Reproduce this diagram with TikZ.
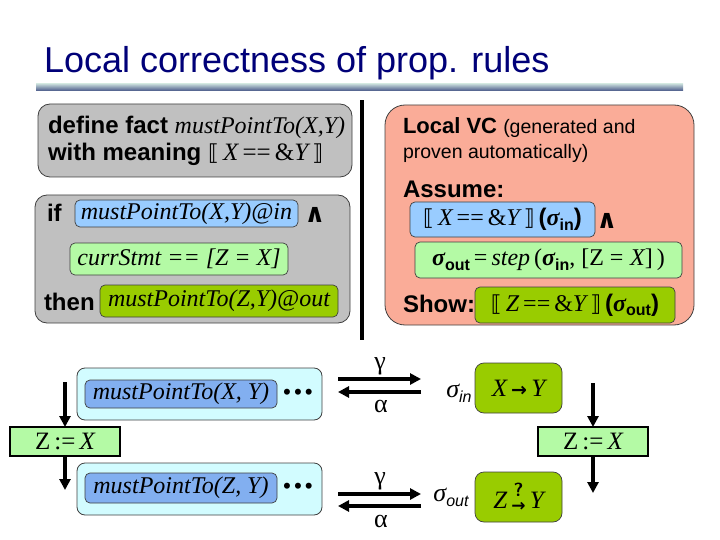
\documentclass[tikz,border=0pt]{standalone}
\usepackage{fontspec}
\setmainfont{Liberation Sans}
\newfontfamily\ser{Liberation Serif}
\newfontfamily\dvs{DejaVu Sans}
\usetikzlibrary{arrows.meta}
\definecolor{navy}{RGB}{0,0,120}
\definecolor{rulet}{RGB}{195,215,215}
\definecolor{ruleb}{RGB}{70,85,135}
\definecolor{gbox}{RGB}{192,192,192}
\definecolor{blueA}{RGB}{153,204,255}
\definecolor{lgreen}{RGB}{180,250,165}
\definecolor{olive}{RGB}{153,204,0}
\definecolor{pinkbox}{RGB}{250,172,152}
\definecolor{cyanbox}{RGB}{210,252,255}
\definecolor{innerblue}{RGB}{130,175,240}
\newcommand\mi[1]{{\ser\itshape #1}}
\newcommand\mr[1]{{\ser #1}}
\newcommand\lbr{{\dvs\fontsize{22}{22}\selectfont ⟦}}
\newcommand\rbr{{\dvs\fontsize{22}{22}\selectfont ⟧}}
\newcommand\sig{{\ser\bfseries\itshape σ}}
\newcommand\subs[1]{\raisebox{-0.35ex}{\fontsize{16}{16}\selectfont\bfseries #1}}
\newcommand\isubs[1]{\raisebox{-0.35ex}{\fontsize{16}{16}\selectfont\itshape #1}}
\begin{document}
\begin{tikzpicture}[x=1pt,y=-1pt,
  every node/.style={inner sep=0pt, outer sep=0pt},
  box/.style={draw=black!75, line width=0.8pt, rounded corners=12pt},
  chip/.style={draw=black!75, line width=0.7pt, rounded corners=5pt, align=center},
  serfont/.style={font=\ser\itshape\fontsize{24}{27}\selectfont},
  sanslbl/.style={font=\bfseries\fontsize{24}{26}\selectfont},
  andsym/.style={font=\dvs\bfseries\fontsize{26}{26}\selectfont},
  arr/.style={line width=3.4pt, -{Triangle[length=11pt,width=11pt]}},
  vline/.style={line width=3.4pt, -{Triangle[length=11pt,width=11pt]}},
  greek/.style={font=\ser\fontsize{26}{28}\selectfont}]
\useasboundingbox (0,0) rectangle (720,540);

% title
\node[anchor=base west, text=navy, font=\fontsize{36}{40}\selectfont] (title) at (44,73) {Local correctness of prop. rules};
\shade[top color=rulet, bottom color=ruleb] (36,84) rectangle (683,91);

% left box 1
\node[box, fill=gbox, minimum width=314pt, minimum height=73pt] (def) at (195,140.5) {};
\node[anchor=base west, sanslbl] (def1) at (48,134) {define fact \mi{\mdseries\fontsize{24}{27}\selectfont mustPointTo(X,Y)}};
\node[anchor=base west, sanslbl] (def2) at (48,161) {with meaning \mdseries\fontsize{25}{28}\selectfont\lbr\,\mi{X}\,\mr{==}\,\mr{\&}\mi{Y}\,\rbr};

% left box 2
\node[box, fill=gbox, minimum width=315pt, minimum height=128pt] (rule) at (192.5,259) {};
\node[anchor=base west, sanslbl] (if) at (47,222) {if};
\node[chip, fill=blueA, minimum width=223pt, minimum height=27pt, serfont] (pin) at (186.5,213.5) {mustPointTo(X,Y)@in};
\node[andsym] (and1) at (315,215) {∧};
\node[chip, fill=lgreen, minimum width=218pt, minimum height=32pt, serfont] (cs) at (179,259) {currStmt \mr{== [Z =} X\mr{]}};
\node[anchor=base west, sanslbl] (then) at (44,310) {then};
\node[chip, fill=olive, minimum width=238pt, minimum height=32pt, serfont] (pout) at (219,301) {mustPointTo(Z,Y)@out};

% separator bar
\fill (360,100) rectangle (364,340);

% right box
\node[box, fill=pinkbox, rounded corners=20pt, minimum width=309pt, minimum height=220pt] (vc) at (539.5,215) {};
\node[anchor=base west] (vc1) at (403,134) {\bfseries\fontsize{22}{24}\selectfont Local VC \mdseries\fontsize{19.5}{22}\selectfont (generated and};
\node[anchor=base west, font=\fontsize{19.5}{22}\selectfont] (vc2) at (403,159) {proven automatically)};
\node[anchor=base west, sanslbl] (assume) at (403,197) {Assume:};
\node[chip, fill=blueA, minimum width=185pt, minimum height=35pt, font=\fontsize{24}{27}\selectfont] (ain) at (502.5,219.5) {\lbr\,\mi{X}\,\mr{==}\,\mr{\&}\mi{Y}\,\rbr\,\textbf{(}\sig\subs{in}\textbf{)}};
\node[andsym] (and2) at (607,221) {∧};
\node[chip, fill=lgreen, minimum width=267pt, minimum height=36pt, font=\fontsize{24}{27}\selectfont] (astep) at (548.5,260) {\sig\subs{out}\,\mr{=}\,\mi{step}\,\mr{(}\sig\subs{in}\mr{, [Z =} \mi{X}\mr{]\,)}};
\node[anchor=base west, sanslbl] (show) at (403,312) {Show:};
\node[chip, fill=olive, minimum width=200pt, minimum height=36pt, font=\fontsize{24}{27}\selectfont] (sout) at (575,305) {\lbr\,\mi{Z}\,\mr{==}\,\mr{\&}\mi{Y}\,\rbr\,\textbf{(}\sig\subs{out}\textbf{)}};

% bottom left
\node[box, fill=cyanbox, rounded corners=8pt, minimum width=245pt, minimum height=52pt] (c1) at (199.5,394) {};
\node[chip, fill=innerblue, minimum width=192pt, minimum height=28pt, serfont] (m1) at (181,394) {mustPointTo\mr{(}X\mr{, }Y\mr{)}};
\node[font=\dvs\bfseries\fontsize{17}{17}\selectfont] (d1) at (298,394) {•••};
\node[box, fill=cyanbox, rounded corners=8pt, minimum width=245pt, minimum height=52pt] (c2) at (199.5,489) {};
\node[chip, fill=innerblue, minimum width=192pt, minimum height=30pt, serfont] (m2) at (181,488) {mustPointTo\mr{(}Z\mr{, }Y\mr{)}};
\node[font=\dvs\bfseries\fontsize{17}{17}\selectfont] (d2) at (298,488) {•••};

% left assignment
\node[draw=black, line width=1.5pt, fill=lgreen, minimum width=110pt, minimum height=29pt, font=\ser\fontsize{25}{28}\selectfont] (zl) at (65,441.5) {Z\,:=\,\mi{X}};
\coordinate (zlt) at (65,382);
\coordinate (zlb) at (65,490);
\draw[vline] (zlt) -- (zl.north);
\draw[vline] (zl.south) -- (zlb);

% middle arrows
\coordinate (g1a) at (338,379); \coordinate (g1b) at (421,379);
\coordinate (a1a) at (421,392); \coordinate (a1b) at (338,392);
\coordinate (g2a) at (338,494); \coordinate (g2b) at (421,494);
\coordinate (a2a) at (421,506); \coordinate (a2b) at (338,506);
\draw[arr] (g1a) -- (g1b);
\draw[arr] (a1a) -- (a1b);
\draw[arr] (g2a) -- (g2b);
\draw[arr] (a2a) -- (a2b);
\node[greek] (gam1) at (380,366) {γ};
\node[greek] (alp1) at (381,406) {α};
\node[greek] (gam2) at (380,481) {γ};
\node[greek] (alp2) at (381,521) {α};

% sigma states
\node[font=\fontsize{26}{28}\selectfont] (sin) at (459,393) {\mi{σ}\isubs{in}};
\node[chip, fill=olive, rounded corners=9pt, minimum width=87pt, minimum height=50pt, font=\ser\itshape\fontsize{25}{28}\selectfont] (xy) at (518.5,388) {X\,{\upshape\dvs\bfseries\fontsize{19}{19}\selectfont →}\,Y};
\node[font=\fontsize{26}{28}\selectfont] (sout2) at (451,497) {\mi{σ}\isubs{out}};
\node[chip, fill=olive, rounded corners=9pt, minimum width=87pt, minimum height=50pt, font=\ser\itshape\fontsize{25}{28}\selectfont] (zy) at (518.5,497) {Z\,$\stackrel{\raisebox{4pt}{\upshape\sffamily\bfseries\fontsize{19}{19}\selectfont ?}}{\raisebox{-3pt}{\upshape\dvs\bfseries\fontsize{17}{17}\selectfont →}}$\,Y};

% right assignment
\node[draw=black, line width=1.5pt, fill=lgreen, minimum width=110pt, minimum height=29pt, font=\ser\fontsize{25}{28}\selectfont] (zr) at (593,441.5) {Z\,:=\,\mi{X}};
\coordinate (zrt) at (593,383);
\coordinate (zrb) at (593,493);
\draw[vline] (zrt) -- (zr.north);
\draw[vline] (zr.south) -- (zrb);
\end{tikzpicture}
\end{document}
